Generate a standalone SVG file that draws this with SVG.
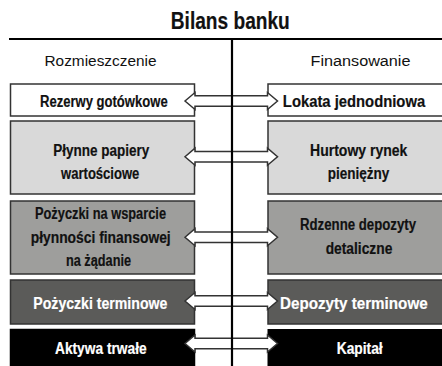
<svg xmlns="http://www.w3.org/2000/svg" width="442" height="366" viewBox="0 0 442 366">
<style>
.box{stroke:#333;stroke-width:1.5}
.rb{stroke:none}
.edge{fill:none;stroke:#333;stroke-width:1.5}
.b1{fill:#fff}.b2{fill:#d9d9d9}.b3{fill:#9e9e9c}.b4{fill:#5b5b59}.b5{fill:#000;stroke:#000}
.lbl{font-family:"Liberation Sans",Arial,sans-serif;font-weight:bold;font-size:17px;text-anchor:middle;fill:#111;stroke:#111;stroke-width:0.2}
.w{fill:#fff;stroke:#fff}
.hdr{font-family:"Liberation Sans",Arial,sans-serif;font-size:15.5px;text-anchor:middle;fill:#111}
.ttl{font-family:"Liberation Sans",Arial,sans-serif;font-weight:bold;font-size:24px;text-anchor:middle;fill:#111;stroke:#111;stroke-width:0.2}
.arr{fill:#fff;stroke:#333;stroke-width:1.5;stroke-linejoin:miter}
.rule{stroke:#000;stroke-width:2.2;fill:none}
</style>
<text class="ttl" transform="translate(230.3,28.5) scale(0.8,1)" textLength="148.75" lengthAdjust="spacingAndGlyphs">Bilans banku</text>
<text class="hdr" x="100.5" y="66" textLength="112" lengthAdjust="spacingAndGlyphs">Rozmieszczenie</text>
<text class="hdr" x="360.5" y="66" textLength="100" lengthAdjust="spacingAndGlyphs">Finansowanie</text>

<g id="rezerwy"><rect class="box b1" x="10.5" y="84" width="184" height="32"/>
<text class="lbl" transform="translate(103.8,107) scale(0.8,1)" textLength="159.6" lengthAdjust="spacingAndGlyphs">Rezerwy gotówkowe</text></g>
<g id="lokata"><rect class="rb b1" x="268" y="84" width="174" height="32"/><path class="edge" d="M442,84H268V116H442"/>
<text class="lbl" transform="translate(354,107) scale(0.8,1)" textLength="177.9" lengthAdjust="spacingAndGlyphs">Lokata jednodniowa</text></g>

<g id="papiery"><rect class="box b2" x="10.5" y="121" width="184" height="73"/>
<text class="lbl" transform="translate(101.3,155.5) scale(0.8,1)" textLength="120" lengthAdjust="spacingAndGlyphs">Płynne papiery</text>
<text class="lbl" transform="translate(100.2,179) scale(0.8,1)" textLength="97.9" lengthAdjust="spacingAndGlyphs">wartościowe</text></g>
<g id="hurtowy"><rect class="rb b2" x="268" y="121" width="174" height="73"/><path class="edge" d="M442,121H268V194H442"/>
<text class="lbl" transform="translate(358.7,155.5) scale(0.8,1)" textLength="121.6" lengthAdjust="spacingAndGlyphs">Hurtowy rynek</text>
<text class="lbl" transform="translate(358.5,179) scale(0.8,1)" textLength="77.1" lengthAdjust="spacingAndGlyphs">pieniężny</text></g>

<g id="pozyczki-plynnosc"><rect class="box b3" x="10.5" y="201" width="184" height="73"/>
<text class="lbl" transform="translate(100.5,219) scale(0.8,1)" textLength="163.8" lengthAdjust="spacingAndGlyphs">Pożyczki na wsparcie</text>
<text class="lbl" transform="translate(100.7,242.5) scale(0.8,1)" textLength="175" lengthAdjust="spacingAndGlyphs">płynności finansowej</text>
<text class="lbl" transform="translate(98.5,266) scale(0.8,1)" textLength="81.3" lengthAdjust="spacingAndGlyphs">na żądanie</text></g>
<g id="rdzenne"><rect class="rb b3" x="268" y="201" width="174" height="73"/><path class="edge" d="M442,201H268V274H442"/>
<text class="lbl" transform="translate(358,230) scale(0.8,1)" textLength="145" lengthAdjust="spacingAndGlyphs">Rdzenne depozyty</text>
<text class="lbl" transform="translate(359,253.5) scale(0.8,1)" textLength="83.4" lengthAdjust="spacingAndGlyphs">detaliczne</text></g>

<g id="pozyczki-terminowe"><rect class="box b4" x="10.5" y="280" width="184" height="44"/>
<text class="lbl w" transform="translate(100.3,309) scale(0.8,1)" textLength="167.5" lengthAdjust="spacingAndGlyphs">Pożyczki terminowe</text></g>
<g id="depozyty-terminowe"><rect class="rb b4" x="268" y="280" width="174" height="44"/><path class="edge" d="M442,280H268V324H442"/>
<text class="lbl w" transform="translate(353.8,309) scale(0.8,1)" textLength="184.6" lengthAdjust="spacingAndGlyphs">Depozyty terminowe</text></g>

<g id="aktywa"><rect class="box b5" x="10.5" y="329.5" width="184" height="36.5"/>
<text class="lbl w" transform="translate(100.8,354) scale(0.8,1)" textLength="114.6" lengthAdjust="spacingAndGlyphs">Aktywa trwałe</text></g>
<g id="kapital"><rect class="rb b5" x="268" y="329.5" width="174" height="36.5"/>
<text class="lbl w" transform="translate(359.7,354) scale(0.8,1)" textLength="57.5" lengthAdjust="spacingAndGlyphs">Kapitał</text></g>

<g id="connectors">
<polygon class="arr" points="185,101 195,92.5 195,95.7 267.5,95.7 267.5,92.5 277.5,101 267.5,109.5 267.5,106.3 195,106.3 195,109.5"/>
<polygon class="arr" points="185,156.7 195,148.2 195,151.4 267.5,151.4 267.5,148.2 277.5,156.7 267.5,165.2 267.5,162 195,162 195,165.2"/>
<polygon class="arr" points="185,237.2 195,228.7 195,231.9 267.5,231.9 267.5,228.7 277.5,237.2 267.5,245.7 267.5,242.5 195,242.5 195,245.7"/>
<polygon class="arr" points="185,301 195,292.5 195,295.7 267.5,295.7 267.5,292.5 277.5,301 267.5,309.5 267.5,306.3 195,306.3 195,309.5"/>
<polygon class="arr" points="185,343.5 195,335 195,338.2 267.5,338.2 267.5,335 277.5,343.5 267.5,352 267.5,348.8 195,348.8 195,352"/>
</g>

<g id="frame">
<line class="rule" x1="9" y1="39" x2="442" y2="39"/>
<line class="rule" x1="232" y1="38" x2="232" y2="366"/>
</g>
</svg>
